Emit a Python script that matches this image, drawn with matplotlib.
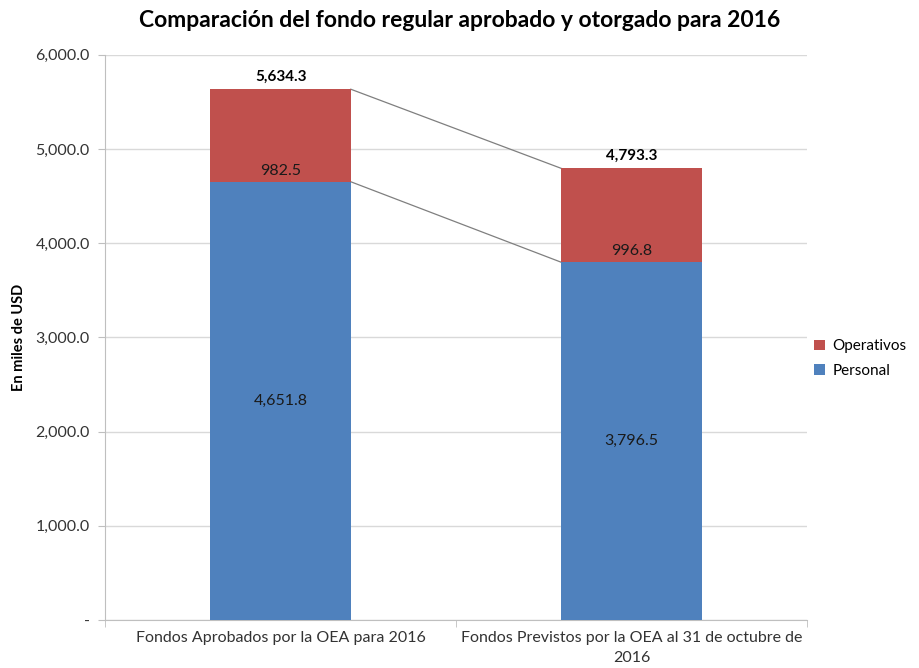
import matplotlib.pyplot as plt
import numpy as np

plt.rcParams['font.family'] = ['Lato', 'DejaVu Sans']

categorias = ["Fondos Aprobados por la OEA para 2016",
              "Fondos Previstos por la OEA al 31 de octubre de\n2016"]
personal = [4651.8, 3796.5]
operativos = [982.5, 996.8]
yticks = [0, 1000, 2000, 3000, 4000, 5000, 6000]

azul = "#4F81BD"
rojo = "#C0504D"

fig = plt.figure(figsize=(9.19, 6.68), dpi=100)
ax = fig.add_axes([0.1143, 0.072, 0.764, 0.846])

x = np.arange(len(categorias))
ancho = 0.4
personal = np.array(personal)
operativos = np.array(operativos)
total = personal + operativos

b1 = ax.bar(x, personal, width=ancho, color=azul, label="Personal", zorder=3)
b2 = ax.bar(x, operativos, width=ancho, bottom=personal, color=rojo,
            label="Operativos", zorder=3)

# lineas de serie entre barras
for serie in (personal, total):
    ax.plot([x[0] + ancho / 2, x[1] - ancho / 2], [serie[0], serie[1]],
            color="#7f7f7f", lw=0.9, zorder=2)

for i in range(len(x)):
    ax.text(x[i], personal[i] / 2, f"{personal[i]:,.1f}",
            ha="center", va="center", fontsize=11.5, color="#1a1a1a")
    ax.annotate(f"{operativos[i]:,.1f}", (x[i], personal[i]),
                xytext=(0, 3), textcoords="offset points",
                ha="center", va="bottom", fontsize=11.5, color="#1a1a1a")
    ax.annotate(f"{total[i]:,.1f}", (x[i], total[i]),
                xytext=(0, 4), textcoords="offset points",
                ha="center", va="bottom", fontsize=11, fontweight="bold")

ax.set_xlim(-0.5, 1.5)
ax.set_ylim(0, 6000)
ax.set_yticks(yticks)
ax.set_yticklabels(["-" if v == 0 else f"{v:,.1f}" for v in yticks])
ax.set_xticks(x)
ax.set_xticklabels(categorias, linespacing=1.5)
ax.set_xticks([-0.5, 0.5, 1.5], minor=True)
ax.tick_params(axis="x", which="major", length=0, pad=8, labelsize=11.5,
               labelcolor="#333333")
ax.tick_params(axis="x", which="minor", length=5, color="#bfbfbf")
ax.tick_params(axis="y", length=5, color="#bfbfbf", labelsize=11.5,
               labelcolor="#333333", pad=6)

ax.grid(axis="y", color="#d9d9d9", lw=1, zorder=0)
for lado in ("top", "right"):
    ax.spines[lado].set_visible(False)
for lado in ("left", "bottom"):
    ax.spines[lado].set_color("#bfbfbf")

ax.set_ylabel("En miles de USD", fontsize=10.5, fontweight="bold", labelpad=7)
fig.suptitle("Comparación del fondo regular aprobado y otorgado para 2016",
             fontsize=16.5, fontweight="bold", y=0.985)

ax.legend([b2, b1], ["Operativos", "Personal"], loc="center left",
          bbox_to_anchor=(0.99, 0.462), frameon=False,
          fontsize=11, handlelength=0.7, handleheight=0.7, handletextpad=0.5,
          labelspacing=0.7)

plt.savefig("out.png", dpi=100)
